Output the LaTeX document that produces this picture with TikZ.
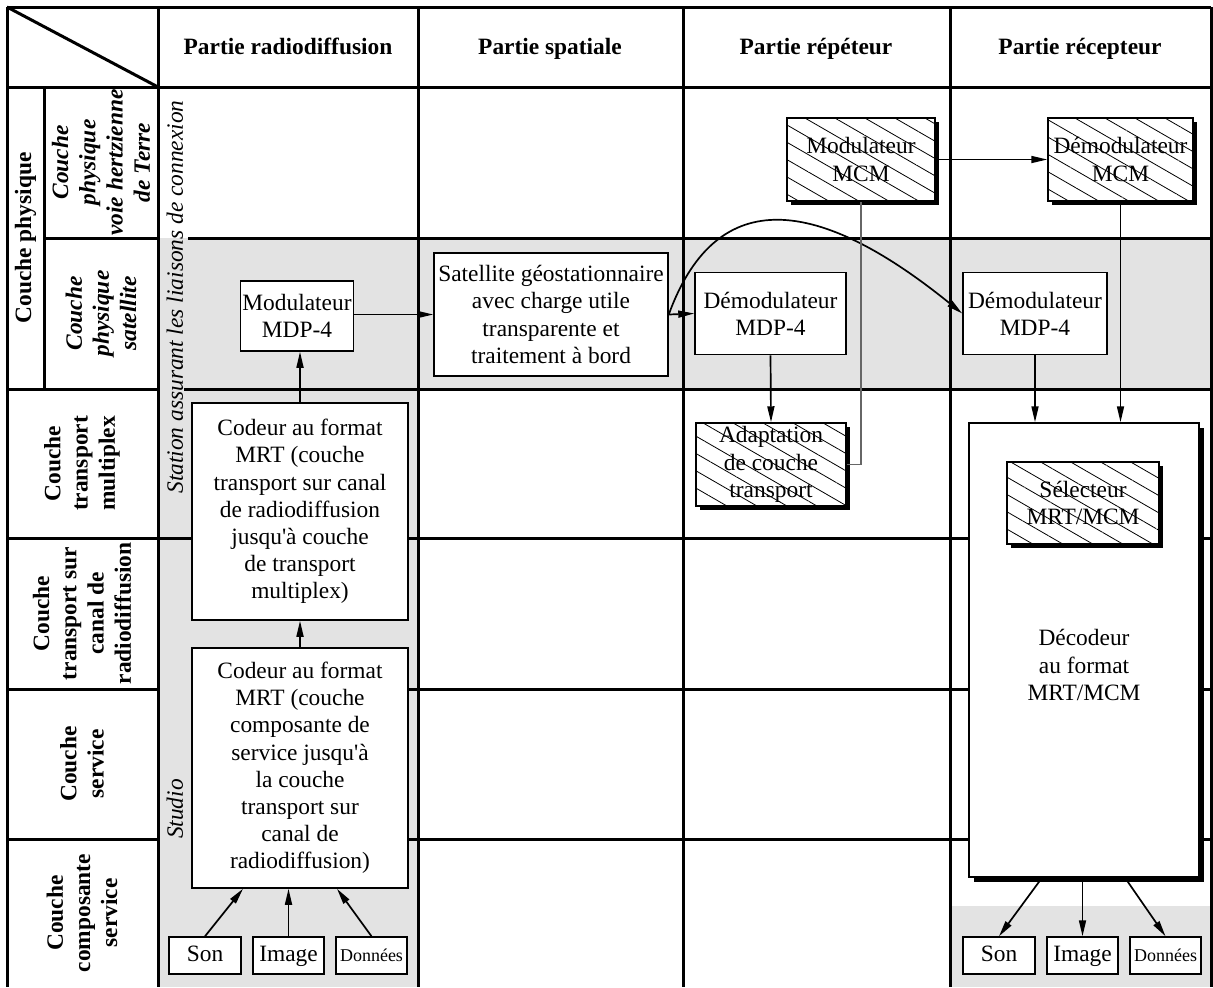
\documentclass[tikz,border=0pt]{standalone}
\usepackage{fontspec}
\setmainfont{Liberation Serif}
\usetikzlibrary{positioning,shadows,arrows.meta,patterns.meta}
\definecolor{zone}{gray}{0.89}
\newcommand{\sz}{\fontsize{11.7}{13.6}\selectfont}
\newcommand{\szsmall}{\fontsize{9}{10}\selectfont}

\begin{document}
\begin{tikzpicture}
		[x=0.5pt, y=-0.5pt, font=\sz,
		tabline/.style={line width=1.5pt},
		box/.style={draw, fill=white, line width=0.75pt, align=center, inner sep=1pt, font=\sz},
		shadowed/.style={drop shadow={shadow xshift=2pt, shadow yshift=-2pt, fill=black, opacity=1}},
		hatchbox/.style={box, shadowed,
			postaction={pattern={Lines[angle=-30, distance=7.5pt, line width=0.4pt]}}},
		srcbox/.style={box, minimum width=35.5pt, minimum height=18.5pt, text height=8pt, text depth=2.5pt},
		head/.style={font=\sz\bfseries, anchor=base},
		rowlab/.style={rotate=90, align=center, font=\sz\bfseries},
		sublab/.style={rotate=90, align=center, font=\sz\bfseries\itshape},
		sidelab/.style={rotate=90, font=\sz\itshape},
		arr/.style={line width=0.85pt, -{Triangle[length=8pt, width=3.5pt]}},
		wire/.style={line width=0.6pt, draw=black!60},
		]
		\useasboundingbox (0,0) rectangle (1213,987);
		
		% shaded zones
		\fill[zone] (158,238) rectangle (1211,389);
		\fill[zone] (158,389) rectangle (418,987);
		\fill[zone] (950,906) rectangle (1211,987);
		
		% table
		\draw[tabline] (7,7) -- (1211,7);
		\draw[tabline] (7,87) -- (1211,87);
		\draw[tabline] (44,238) -- (158,238) (188,238) -- (1211,238);
		\draw[tabline] (7,389) -- (158,389) (184,389) -- (1211,389);
		\draw[tabline] (7,538) -- (1211,538);
		\draw[tabline] (7,689) -- (158,689) (192,689) -- (1211,689);
		\draw[tabline] (7,839) -- (158,839) (192,839) -- (1211,839);
		\foreach \x in {7,158,418,683,950,1211}
			\draw[tabline] (\x,7) -- (\x,987);
		\draw[tabline] (44,87) -- (44,389);
		\draw[tabline] (7,7) -- (158,87);
		
		% column heads
		\node[head] (h1) at (288,54) {Partie radiodiffusion};
		\node[head] (h2) at (550,54) {Partie spatiale};
		\node[head] (h3) at (816,54) {Partie répéteur};
		\node[head] (h4) at (1080,54) {Partie récepteur};
		
		% layers
		\node[rowlab] (L0) at (25.5,238) {Couche physique};
		\node[sublab] (L1) at (101,162.5) {Couche\\physique\\voie hertzienne\\de Terre};
		\node[sublab] (L2) at (101,313.5) {Couche\\physique\\satellite};
		\node[rowlab] (L3) at (82,463.5) {Couche\\transport\\multiplex};
		\node[rowlab] (L4) at (82,613.5) {Couche\\transport sur\\canal de\\radiodiffusion};
		\node[rowlab] (L5) at (82,764) {Couche\\service};
		\node[rowlab] (L6) at (82,913) {Couche\\composante\\service};
		
		\node[sidelab] (station) at (175,297) {Station assurant les liaisons de connexion};
		\node[sidelab] (studio) at (175,809) {Studio};
		
		% boxes
		\node[box, minimum width=50pt, minimum height=35pt] (mod) at (297,316) {Modulateur\\MDP-4};
		\node[box, minimum width=117pt, minimum height=61.5pt] (sat) at (551,314.5)
			{Satellite géostationnaire\\avec charge utile\\transparente et\\traitement à bord};
		\node[box, minimum width=75.5pt, minimum height=41pt] (dmd) at (770.5,313.5) {Démodulateur\\MDP-4};
		\node[box, minimum width=72pt, minimum height=41pt] (dmdr) at (1035,313.5) {Démodulateur\\MDP-4};
		\node[hatchbox, minimum width=74pt, minimum height=41.5pt] (modmcm) at (861,159.5) {Modulateur\\MCM};
		\node[hatchbox, minimum width=72.5pt, minimum height=41.5pt] (dmdmcm) at (1120.5,159.5) {Démodulateur\\MCM};
		\node[hatchbox, minimum width=75pt, minimum height=41.5pt] (adapt) at (771,464.5) {Adaptation\\de couche\\transport};
		\node[box, minimum width=115pt, minimum height=227pt,
			drop shadow={shadow xshift=2.5pt, shadow yshift=-2.5pt, fill=black, opacity=1}] (dec) at (1084,650) {};
		\node[hatchbox, minimum width=76pt, minimum height=41pt] (sel) at (1083,503) {Sélecteur\\MRT/MCM};
		\node[align=center] (dectext) at (1084,665) {Décodeur\\au format\\MRT/MCM};
		
		\node[box, minimum width=108pt, minimum height=108.5pt] (cod1) at (300,511.5)
			{Codeur au format\\MRT (couche\\transport sur canal\\de radiodiffusion\\jusqu\textquotesingle à couche\\de transport\\multiplex)};
		\node[box, minimum width=108pt, minimum height=120pt] (cod2) at (300,768)
			{Codeur au format\\MRT (couche\\composante de\\service jusqu\textquotesingle à\\la couche\\transport sur\\canal de\\radiodiffusion)};
		
		\node[srcbox, minimum width=36pt] (son1) at (205,955.5) {Son};
		\node[srcbox] (img1) at (288.5,955.5) {Image};
		\node[srcbox, font=\szsmall] (don1) at (371.5,955.5) {Données};
		\node[srcbox, minimum width=36pt] (son2) at (999,955.5) {Son};
		\node[srcbox] (img2) at (1082.5,955.5) {Image};
		\node[srcbox, font=\szsmall] (don2) at (1165.5,955.5) {Données};
		
		% connections
		\draw[arr] (son1.north) -- ([xshift=-28.5pt]cod2.south);
		\draw[arr] (img1.north) -- (img1.north |- cod2.south);
		\draw[arr] (don1.north) -- ([xshift=18.5pt]cod2.south);
		\draw[arr] (cod2.north) -- (cod1.south);
		\draw[arr] (cod1.north) -- (cod1.north |- mod.south);
		\draw[arr] (mod.east |- sat.west) -- (sat.west);
		\draw[arr] (sat.east) -- (dmd.west);
		\draw[arr] (sat.east) .. controls (714,190) and (810,190) .. (dmdr.west);
		\draw[arr] (dmd.south) -- (adapt.north);
		\draw[wire] (adapt.east) -| (modmcm.south);
		\draw[arr] (modmcm.east) -- (dmdmcm.west);
		\draw[arr] (dmdmcm.south) -- (dmdmcm.south |- dec.north);
		\draw[arr] (dmdr.south) -- (dmdr.south |- dec.north);
		\draw[arr] ([xshift=-21pt]dec.south) -- (son2.north);
		\draw[arr] (dec.south -| img2.north) -- (img2.north);
		\draw[arr] ([xshift=20.5pt]dec.south) -- (don2.north);
		
	\end{tikzpicture}
\end{document}
